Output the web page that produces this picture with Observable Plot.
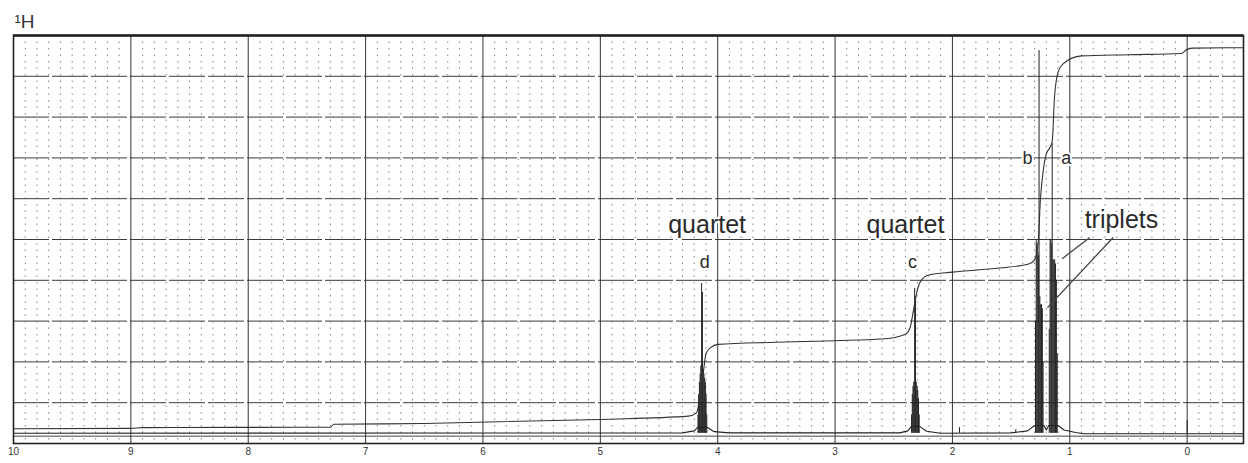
<!DOCTYPE html>
<html><head><meta charset="utf-8">
<script src="https://cdn.jsdelivr.net/npm/d3@7"></script>
<script src="https://cdn.jsdelivr.net/npm/@observablehq/plot@0.6"></script>
<style>body{margin:0;background:#fff;} #chart svg{display:block;}</style>
</head><body><div id="chart"></div>
<script>
// ---- data (ppm, relative intensity 0-100) ----
const xTicks = [10, 9, 8, 7, 6, 5, 4, 3, 2, 1, 0];
const majorGridPpm = [9, 8, 7, 6, 5, 4, 3, 2, 1, 0];
const hGridValues = [10, 20, 30, 40, 50, 60, 70, 80, 90];

// individual resonance lines (multiplets d, c, b, a + TMS + small impurities)
const peakPpm = [
  4.168, 4.162, 4.156, 4.150, 4.144, 4.137, 4.130, 4.123, 4.117, 4.111, 4.105, 4.099, 4.093,
  2.348, 2.342, 2.336, 2.330, 2.322, 2.315, 2.308, 2.301, 2.295, 2.289, 2.283,
  1.940, 1.460,
  1.292, 1.286, 1.279, 1.272, 1.265, 1.262, 1.255, 1.248, 1.241, 1.234, 1.228,
  1.175, 1.168, 1.161, 1.154, 1.150, 1.143, 1.136, 1.129, 1.122, 1.114, 1.107,
  0.000
];
const peakHeight = [
  7, 12, 15, 17, 19, 39.2, 37, 18, 17, 16, 15, 12, 7,
  7, 12, 14, 15, 38, 36, 15, 14, 13, 11, 7,
  3.9, 3.4,
  30, 49.7, 49, 47, 46, 96.3, 36, 34, 34, 33, 20,
  28, 50, 50, 49, 73.5, 45, 45, 45, 44, 40, 22,
  5.6
];

// spectrum baseline with the broadened feet of the multiplets
const baselinePpm   = [10, 4.30, 4.20, 4.17, 4.09, 4.03, 3.90, 2.45, 2.38, 2.35, 2.28, 2.22, 2.10, 1.50, 1.36, 1.30, 1.22, 1.20, 1.18, 1.10, 1.05, 0.95, 0.88, -0.48];
const baselineValue = [2.5, 2.6, 3.1, 4.0, 4.0, 2.9, 2.6, 2.6, 3.1, 4.2, 4.2, 3.0, 2.5, 2.6, 3.1, 4.4, 4.4, 3.3, 4.4, 4.4, 3.3, 2.7, 2.4, 2.4];

// integral trace
const integralPpm   = [10, 9.0, 8.9, 7.3, 7.27, 6.5, 5.0, 4.25, 4.18, 4.15, 4.12, 4.10, 4.06, 4.0, 3.5, 3.0, 2.6, 2.4, 2.36, 2.33, 2.30, 2.27, 2.2, 2.0, 1.6, 1.35, 1.30, 1.27, 1.25, 1.226, 1.20, 1.17, 1.15, 1.13, 1.10, 1.06, 0.9, 0.5, 0.05, 0.0, -0.05, -0.48];
const integralValue = [3.6, 3.7, 3.9, 4.0, 4.7, 4.9, 5.9, 6.7, 7.5, 12, 18, 22, 23.5, 24.3, 24.8, 25.2, 25.6, 26.8, 28.5, 33, 37.5, 39.8, 41.3, 42, 43, 44, 45, 49, 60, 67, 71, 72.5, 74, 85, 91, 93, 95, 95.3, 95.6, 96.6, 96.9, 97];

// annotations
const labelText  = ["quartet", "d", "quartet", "c", "b", "a", "triplets"];
const labelPpm   = [4.09, 4.11, 2.40, 2.34, 1.36, 1.03, 0.56];
const labelValue = [53.6, 44.4, 53.6, 44.4, 69.9, 69.9, 54.9];
const leaderFromPpm = [0.83, 0.63];
const leaderFromVal = [50.5, 50.5];
const leaderToPpm   = [1.065, 1.19];
const leaderToVal   = [45.3, 33.3];

// ---- build tables ----
const peaks = peakPpm.map((p, i) => ({ppm: p, h: peakHeight[i]}));
const baseline = baselinePpm.map((p, i) => ({ppm: p, v: baselineValue[i]}));
const integral = integralPpm.map((p, i) => ({ppm: p, v: integralValue[i]}));
const labels = labelText.map((t, i) => ({t, ppm: labelPpm[i], v: labelValue[i], big: t.length > 1}));
const leaders = leaderFromPpm.map((p, i) => ({x1: p, y1: leaderFromVal[i], x2: leaderToPpm[i], y2: leaderToVal[i]}));
const minorGrid = d3.range(-4, 100).filter(i => i % 10 !== 0).map(i => i / 10);

const font = "'Liberation Sans', Arial, sans-serif";

const chart = Plot.plot({
  width: 1248, height: 463,
  marginLeft: 13, marginRight: 5, marginTop: 35, marginBottom: 20,
  style: {fontFamily: font, background: "#fff"},
  x: {domain: [10, -0.48]},
  y: {domain: [0, 100], axis: null},
  marks: [
    Plot.ruleX(minorGrid, {stroke: "#777", strokeWidth: 0.9, strokeDasharray: "1.5,5"}),
    Plot.ruleY(hGridValues, {stroke: "#3a3a3a", strokeWidth: 1, strokeDasharray: "36,3"}),
    Plot.ruleX(majorGridPpm, {stroke: "#333", strokeWidth: 1}),
    Plot.ruleY([1.8], {stroke: "#444", strokeWidth: 1}),
    Plot.frame({stroke: "#222", strokeWidth: 1.6}),
    Plot.ruleY([100], {stroke: "#222", strokeWidth: 2.6}),
    Plot.line(baseline, {x: "ppm", y: "v", stroke: "#222", strokeWidth: 1.1}),
    Plot.ruleX(peaks, {x: "ppm", y1: 2.5, y2: "h", stroke: "#222", strokeWidth: 1}),
    Plot.line(integral, {x: "ppm", y: "v", stroke: "#333", strokeWidth: 1.1, curve: "monotone-x"}),
    Plot.link(leaders, {x1: "x1", y1: "y1", x2: "x2", y2: "y2", stroke: "#444", strokeWidth: 1.3}),
    Plot.text(labels.filter(d => d.big), {x: "ppm", y: "v", text: "t", fontSize: 25, letterSpacing: "0.8px", fill: "#2a2a2a", stroke: "#fff", strokeWidth: 4, paintOrder: "stroke"}),
    Plot.text(labels.filter(d => !d.big), {x: "ppm", y: "v", text: "t", fontSize: 18, fill: "#2a2a2a", stroke: "#fff", strokeWidth: 4, paintOrder: "stroke"}),
    Plot.axisX(xTicks, {tickSize: 0, tickPadding: 4, fontSize: 10, fill: "#333", tickFormat: d => String(d)}),
    Plot.text(["¹H"], {frameAnchor: "top-left", dx: 1, dy: -21, fontSize: 19, fill: "#333", textAnchor: "start"})
  ]
});
document.getElementById("chart").append(chart);
</script>
</body></html>
